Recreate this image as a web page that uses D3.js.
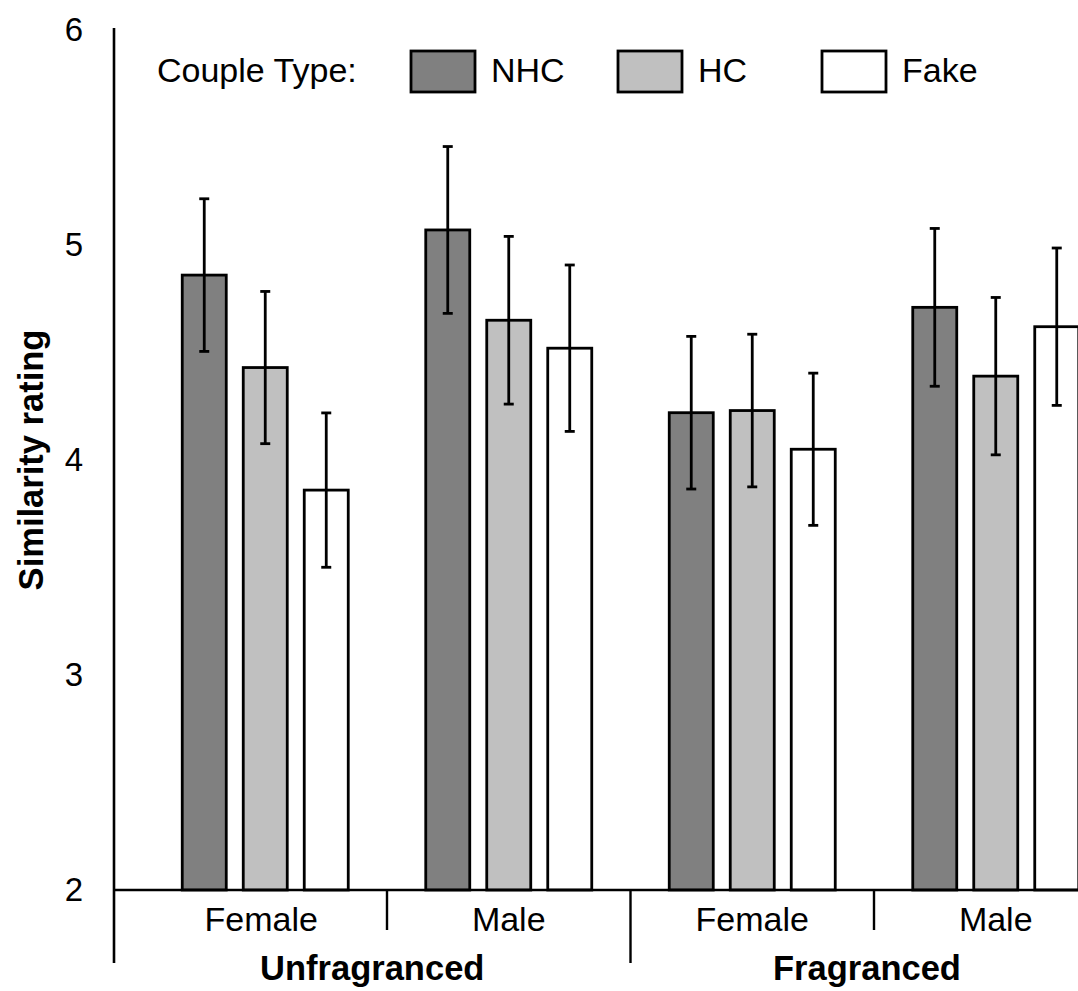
<!DOCTYPE html>
<html>
<head>
<meta charset="utf-8">
<script src="https://cdn.jsdelivr.net/npm/d3@7"></script>
<style>
  html, body { margin: 0; padding: 0; background: #fff; }
  svg { display: block; }
  text { font-family: Arial, "Liberation Sans", Helvetica, sans-serif; fill: #000; }
</style>
</head>
<body>
<svg id="chart" width="1078" height="991"></svg>
<script>
// Mean similarity ratings by condition and couple type, with standard errors
const groups = ["Unfragranced", "Fragranced"];
const categories = ["Female", "Male", "Female", "Male"];
const categoryGroup = [0, 0, 1, 1];
const seriesNames = ["NHC", "HC", "Fake"];
const seriesColors = ["#808080", "#c0c0c0", "#ffffff"];
const nhcMeans = [4.86, 5.07, 4.22, 4.71];
const hcMeans = [4.43, 4.65, 4.23, 4.39];
const fakeMeans = [3.86, 4.52, 4.05, 4.62];
const nhcErrors = [0.355, 0.388, 0.355, 0.367];
const hcErrors = [0.354, 0.39, 0.355, 0.366];
const fakeErrors = [0.359, 0.387, 0.354, 0.366];
const yTicks = [2, 3, 4, 5, 6];

const means = [nhcMeans, hcMeans, fakeMeans];
const errors = [nhcErrors, hcErrors, fakeErrors];

const svg = d3.select("#chart");
const axisX = 114;
const baseY = 890;
const axisBottom = 963;
const labelSize = "34px";
const titleSize = "34.5px";

const y = d3.scaleLinear().domain([2, 6]).range([baseY, 30]);

const x0 = d3.scaleBand()
  .domain(d3.range(categories.length))
  .range([143.5, 1117.5])
  .padding(0);

const innerWidth = 183;
const x1 = d3.scaleBand()
  .domain(seriesNames)
  .range([(x0.bandwidth() - innerWidth) / 2, (x0.bandwidth() + innerWidth) / 2])
  .paddingInner(17 / 61)
  .paddingOuter(17 / 122);

// Table of bars built from the series arrays
const rows = [];
categories.forEach((c, i) => {
  seriesNames.forEach((s, j) => {
    rows.push({ cat: i, series: s, color: seriesColors[j], mean: means[j][i], err: errors[j][i] });
  });
});

const plot = svg.append("g");

// Bars
plot.selectAll("rect.bar")
  .data(rows)
  .join("rect")
  .attr("class", "bar")
  .attr("x", d => x0(d.cat) + x1(d.series))
  .attr("y", d => y(d.mean))
  .attr("width", x1.bandwidth())
  .attr("height", d => y(2) - y(d.mean))
  .attr("fill", d => d.color)
  .attr("stroke", "#000")
  .attr("stroke-width", 2.8);

// Error bars
const capHalf = 5;
const eb = plot.selectAll("g.err")
  .data(rows)
  .join("g")
  .attr("class", "err")
  .attr("transform", d => `translate(${x0(d.cat) + x1(d.series) + x1.bandwidth() / 2},0)`);
eb.append("line")
  .attr("y1", d => y(d.mean - d.err))
  .attr("y2", d => y(d.mean + d.err))
  .attr("stroke", "#000").attr("stroke-width", 2.8);
eb.append("line")
  .attr("x1", -capHalf).attr("x2", capHalf)
  .attr("y1", d => y(d.mean + d.err)).attr("y2", d => y(d.mean + d.err))
  .attr("stroke", "#000").attr("stroke-width", 2.8);
eb.append("line")
  .attr("x1", -capHalf).attr("x2", capHalf)
  .attr("y1", d => y(d.mean - d.err)).attr("y2", d => y(d.mean - d.err))
  .attr("stroke", "#000").attr("stroke-width", 2.8);

// Y axis: labels only, line drawn separately so it runs down through the category area
const yAxis = svg.append("g")
  .attr("transform", `translate(${axisX},0)`)
  .call(d3.axisLeft(y).tickValues(yTicks).tickFormat(d3.format("d")).tickSize(0).tickPadding(31))
  .attr("font-size", 33)
  .attr("font-family", "Arial, 'Liberation Sans', sans-serif");
yAxis.select(".domain").remove();
yAxis.selectAll("text").attr("fill", "#000");

svg.append("line")
  .attr("x1", axisX).attr("x2", axisX)
  .attr("y1", y(6) - 2).attr("y2", axisBottom)
  .attr("stroke", "#000").attr("stroke-width", 2.6);

// Baseline
svg.append("line")
  .attr("x1", axisX).attr("x2", 1078)
  .attr("y1", baseY).attr("y2", baseY)
  .attr("stroke", "#000").attr("stroke-width", 2.6);

// Category dividers: short within a group, long between groups
d3.range(1, categories.length).forEach(i => {
  const bx = x0(i);
  const between = categoryGroup[i] !== categoryGroup[i - 1];
  svg.append("line")
    .attr("x1", bx).attr("x2", bx)
    .attr("y1", baseY).attr("y2", between ? axisBottom : 930)
    .attr("stroke", "#000").attr("stroke-width", 2.4);
});

// Category labels
svg.selectAll("text.cat")
  .data(categories)
  .join("text")
  .attr("class", "cat")
  .attr("x", (d, i) => x0(i) + x0.bandwidth() / 2 - (i === 0 ? 4 : 0))
  .attr("y", 931)
  .attr("text-anchor", "middle")
  .style("font-size", labelSize)
  .text(d => d);

// Group labels, centred on the span of each group (first span starts at the axis)
svg.selectAll("text.grp")
  .data(groups)
  .join("text")
  .attr("class", "grp")
  .attr("x", (g, gi) => {
    const idx = d3.range(categories.length).filter(i => categoryGroup[i] === gi);
    const start = gi === 0 ? axisX : x0(idx[0]);
    const end = x0(idx[idx.length - 1]) + x0.bandwidth() - (gi === groups.length - 1 ? 14 : 0);
    return (start + end) / 2;
  })
  .attr("y", 980)
  .attr("text-anchor", "middle")
  .style("font-size", titleSize)
  .style("font-weight", "bold")
  .text(d => d);

// Y axis title
svg.append("text")
  .attr("transform", `translate(43,${(y(2) + y(6)) / 2}) rotate(-90)`)
  .attr("text-anchor", "middle")
  .style("font-size", titleSize)
  .style("font-weight", "bold")
  .text("Similarity rating");

// Legend
const legend = svg.append("g");
legend.append("text")
  .attr("x", 157).attr("y", 82)
  .style("font-size", labelSize)
  .text("Couple Type:");
const legendBoxX = [411, 618, 822];
const legendItems = legend.selectAll("g.item")
  .data(seriesNames)
  .join("g")
  .attr("class", "item")
  .attr("transform", (d, i) => `translate(${legendBoxX[i]},0)`);
legendItems.append("rect")
  .attr("x", 0).attr("y", 51)
  .attr("width", 64).attr("height", 41)
  .attr("fill", (d, i) => seriesColors[i])
  .attr("stroke", "#000").attr("stroke-width", 2.8);
legendItems.append("text")
  .attr("x", 80).attr("y", 82)
  .style("font-size", labelSize)
  .text(d => d);
</script>
</body>
</html>
